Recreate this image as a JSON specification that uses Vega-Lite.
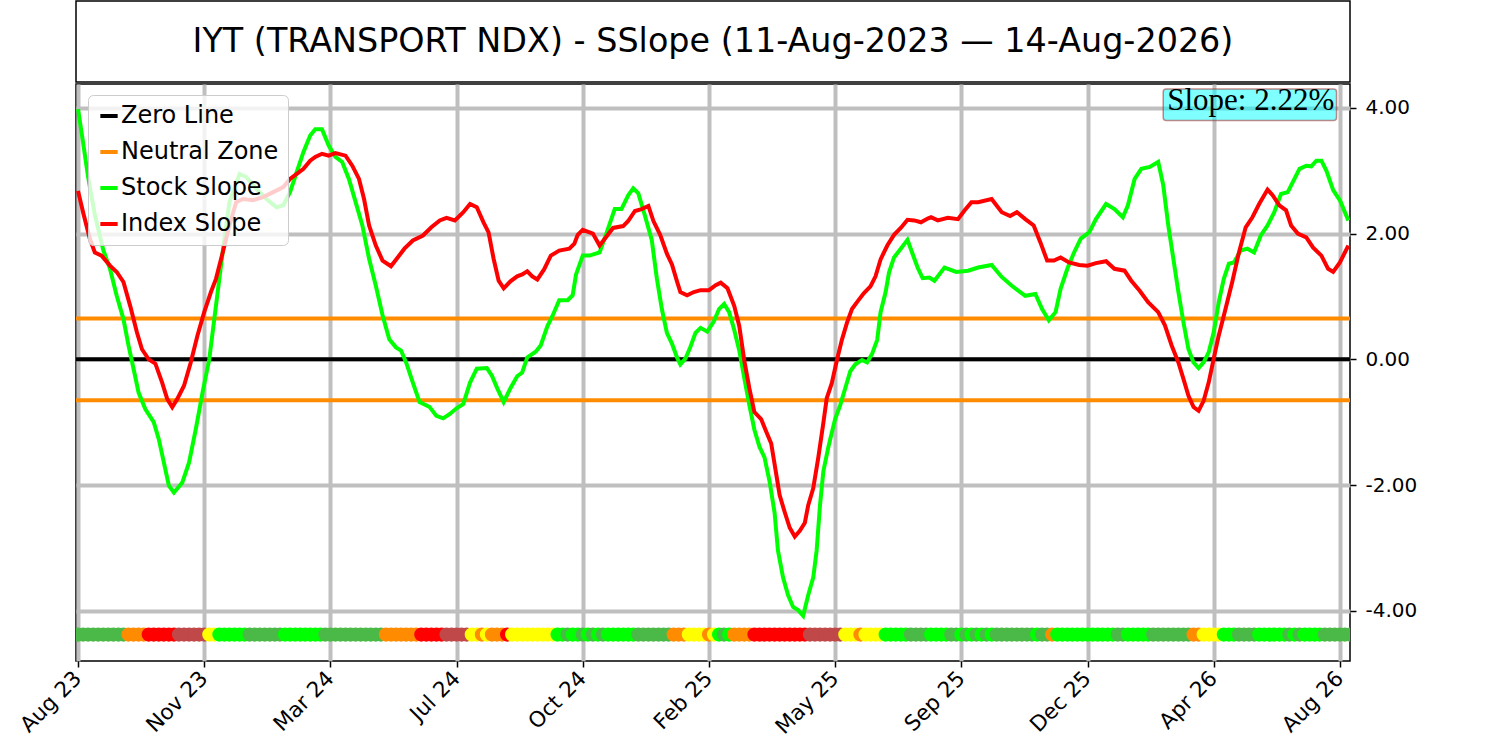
{
  "$schema": "https://vega.github.io/schema/vega-lite/v6.json",
  "description": "IYT SSlope: stock vs index slope with state strip",
  "background": "white",
  "padding": {"left": 15, "top": 0, "right": 5, "bottom": 0},
  "spacing": 0,
  "resolve": {"scale": {"color": "independent", "fill": "independent"}, "legend": {"color": "independent"}},
  "config": {
    "view": {"stroke": "black", "strokeWidth": 1.5},
    "font": "DejaVu Sans"
  },
  "datasets": {
    "stock": [
      {"i":0,"v":3.98},{"i":3,"v":3.45},{"i":6,"v":2.90},{"i":10,"v":2.30},{"i":15,"v":1.74},{"i":19,"v":1.44},{"i":23,"v":1.01},{"i":27,"v":0.64},{"i":30,"v":0.22},{"i":33,"v":-0.15},
      {"i":36,"v":-0.53},{"i":40,"v":-0.79},{"i":45,"v":-1.00},{"i":48,"v":-1.27},{"i":51,"v":-1.64},{"i":54,"v":-2.01},{"i":57,"v":-2.12},{"i":62,"v":-1.96},{"i":66,"v":-1.64},{"i":70,"v":-1.11},
      {"i":74,"v":-0.53},{"i":78,"v":0.00},{"i":81,"v":0.64},{"i":84,"v":1.28},{"i":87,"v":1.92},{"i":90,"v":2.50},{"i":96,"v":2.95},{"i":100,"v":2.90},{"i":106,"v":2.71},{"i":112,"v":2.55},
      {"i":118,"v":2.42},{"i":122,"v":2.45},{"i":126,"v":2.66},{"i":130,"v":2.98},{"i":134,"v":3.30},{"i":138,"v":3.56},{"i":141,"v":3.66},{"i":145,"v":3.66},{"i":149,"v":3.40},{"i":153,"v":3.22},
      {"i":157,"v":3.14},{"i":161,"v":2.87},{"i":165,"v":2.50},{"i":169,"v":2.13},{"i":173,"v":1.60},{"i":177,"v":1.17},{"i":181,"v":0.70},{"i":185,"v":0.32},{"i":189,"v":0.19},{"i":192,"v":0.14},
      {"i":195,"v":-0.05},{"i":199,"v":-0.37},{"i":203,"v":-0.68},{"i":209,"v":-0.76},{"i":213,"v":-0.90},{"i":217,"v":-0.94},{"i":221,"v":-0.87},{"i":225,"v":-0.78},{"i":229,"v":-0.71},{"i":233,"v":-0.37},
      {"i":237,"v":-0.15},{"i":243,"v":-0.14},{"i":246,"v":-0.26},{"i":249,"v":-0.45},{"i":253,"v":-0.68},{"i":257,"v":-0.46},{"i":261,"v":-0.27},{"i":264,"v":-0.21},{"i":267,"v":0.03},{"i":272,"v":0.12},
      {"i":275,"v":0.22},{"i":279,"v":0.53},{"i":282,"v":0.69},{"i":286,"v":0.94},{"i":291,"v":0.94},{"i":294,"v":1.02},{"i":296,"v":1.35},{"i":300,"v":1.65},{"i":304,"v":1.65},{"i":310,"v":1.70},
      {"i":314,"v":2.00},{"i":319,"v":2.39},{"i":323,"v":2.39},{"i":327,"v":2.61},{"i":330,"v":2.72},{"i":333,"v":2.64},{"i":337,"v":2.28},{"i":341,"v":1.90},{"i":344,"v":1.29},{"i":347,"v":0.80},
      {"i":350,"v":0.42},{"i":353,"v":0.25},{"i":356,"v":0.03},{"i":358,"v":-0.08},{"i":361,"v":0.01},{"i":364,"v":0.20},{"i":367,"v":0.42},{"i":370,"v":0.50},{"i":374,"v":0.44},{"i":378,"v":0.61},
      {"i":381,"v":0.80},{"i":384,"v":0.88},{"i":387,"v":0.75},{"i":390,"v":0.47},{"i":393,"v":0.14},{"i":396,"v":-0.30},{"i":399,"v":-0.73},{"i":402,"v":-1.12},{"i":405,"v":-1.39},{"i":408,"v":-1.56},
      {"i":411,"v":-1.94},{"i":414,"v":-2.44},{"i":416,"v":-3.04},{"i":419,"v":-3.47},{"i":422,"v":-3.75},{"i":425,"v":-3.94},{"i":428,"v":-3.99},{"i":431,"v":-4.08},{"i":434,"v":-3.75},{"i":437,"v":-3.47},
      {"i":439,"v":-3.04},{"i":441,"v":-2.32},{"i":443,"v":-1.78},{"i":446,"v":-1.39},{"i":450,"v":-0.95},{"i":453,"v":-0.73},{"i":456,"v":-0.46},{"i":459,"v":-0.19},{"i":462,"v":-0.08},{"i":466,"v":-0.01},
      {"i":469,"v":-0.05},{"i":472,"v":0.09},{"i":475,"v":0.31},{"i":477,"v":0.75},{"i":480,"v":1.07},{"i":482,"v":1.38},{"i":485,"v":1.62},{"i":489,"v":1.76},{"i":493,"v":1.90},{"i":496,"v":1.68},
      {"i":499,"v":1.46},{"i":502,"v":1.29},{"i":506,"v":1.30},{"i":509,"v":1.25},{"i":515,"v":1.46},{"i":522,"v":1.39},{"i":529,"v":1.41},{"i":535,"v":1.46},{"i":543,"v":1.50},{"i":549,"v":1.31},
      {"i":555,"v":1.17},{"i":563,"v":1.01},{"i":569,"v":1.04},{"i":573,"v":0.80},{"i":577,"v":0.62},{"i":581,"v":0.75},{"i":584,"v":1.12},{"i":588,"v":1.44},{"i":592,"v":1.70},{"i":596,"v":1.92},
      {"i":601,"v":2.02},{"i":605,"v":2.23},{"i":611,"v":2.47},{"i":616,"v":2.39},{"i":621,"v":2.26},{"i":624,"v":2.45},{"i":628,"v":2.87},{"i":632,"v":3.03},{"i":637,"v":3.06},{"i":642,"v":3.14},
      {"i":645,"v":2.77},{"i":648,"v":2.13},{"i":651,"v":1.60},{"i":654,"v":1.07},{"i":657,"v":0.59},{"i":660,"v":0.16},{"i":663,"v":-0.05},{"i":666,"v":-0.14},{"i":669,"v":-0.05},{"i":672,"v":0.11},
      {"i":675,"v":0.43},{"i":678,"v":0.91},{"i":681,"v":1.28},{"i":684,"v":1.52},{"i":687,"v":1.54},{"i":691,"v":1.73},{"i":695,"v":1.76},{"i":699,"v":1.70},{"i":703,"v":1.97},{"i":707,"v":2.13},
      {"i":711,"v":2.34},{"i":715,"v":2.63},{"i":719,"v":2.66},{"i":722,"v":2.82},{"i":726,"v":3.03},{"i":730,"v":3.08},{"i":733,"v":3.07},{"i":736,"v":3.16},{"i":739,"v":3.16},{"i":742,"v":3.00},
      {"i":746,"v":2.69},{"i":750,"v":2.53},{"i":755,"v":2.21}
    ],
    "index": [
      {"i":0,"v":2.68},{"i":3,"v":2.34},{"i":7,"v":1.92},{"i":10,"v":1.70},{"i":14,"v":1.65},{"i":19,"v":1.49},{"i":23,"v":1.39},{"i":27,"v":1.23},{"i":31,"v":0.85},{"i":35,"v":0.43},
      {"i":38,"v":0.16},{"i":42,"v":0.00},{"i":46,"v":-0.07},{"i":50,"v":-0.37},{"i":53,"v":-0.63},{"i":56,"v":-0.76},{"i":59,"v":-0.63},{"i":63,"v":-0.42},{"i":67,"v":-0.05},{"i":71,"v":0.38},
      {"i":75,"v":0.75},{"i":79,"v":1.07},{"i":82,"v":1.28},{"i":86,"v":1.70},{"i":90,"v":2.13},{"i":94,"v":2.50},{"i":98,"v":2.55},{"i":104,"v":2.53},{"i":110,"v":2.58},{"i":116,"v":2.66},
      {"i":122,"v":2.74},{"i":126,"v":2.87},{"i":130,"v":2.95},{"i":134,"v":3.03},{"i":138,"v":3.16},{"i":141,"v":3.22},{"i":145,"v":3.27},{"i":149,"v":3.24},{"i":153,"v":3.28},{"i":159,"v":3.24},
      {"i":163,"v":3.08},{"i":167,"v":2.87},{"i":170,"v":2.55},{"i":173,"v":2.13},{"i":177,"v":1.81},{"i":181,"v":1.57},{"i":186,"v":1.48},{"i":190,"v":1.62},{"i":194,"v":1.76},{"i":199,"v":1.89},
      {"i":205,"v":1.97},{"i":210,"v":2.10},{"i":215,"v":2.21},{"i":219,"v":2.25},{"i":224,"v":2.21},{"i":229,"v":2.34},{"i":233,"v":2.47},{"i":237,"v":2.42},{"i":241,"v":2.18},{"i":244,"v":2.02},
      {"i":247,"v":1.60},{"i":250,"v":1.25},{"i":253,"v":1.13},{"i":257,"v":1.24},{"i":261,"v":1.32},{"i":264,"v":1.35},{"i":267,"v":1.40},{"i":270,"v":1.32},{"i":273,"v":1.27},{"i":277,"v":1.43},
      {"i":281,"v":1.65},{"i":286,"v":1.73},{"i":292,"v":1.76},{"i":295,"v":1.84},{"i":297,"v":1.98},{"i":300,"v":2.06},{"i":306,"v":2.00},{"i":310,"v":1.81},{"i":314,"v":1.95},{"i":318,"v":2.09},
      {"i":324,"v":2.12},{"i":327,"v":2.20},{"i":331,"v":2.36},{"i":335,"v":2.39},{"i":339,"v":2.44},{"i":342,"v":2.20},{"i":346,"v":1.98},{"i":350,"v":1.68},{"i":353,"v":1.51},{"i":356,"v":1.24},
      {"i":358,"v":1.07},{"i":362,"v":1.02},{"i":366,"v":1.07},{"i":370,"v":1.10},{"i":375,"v":1.10},{"i":379,"v":1.18},{"i":382,"v":1.22},{"i":386,"v":1.13},{"i":390,"v":0.85},{"i":393,"v":0.53},
      {"i":396,"v":-0.02},{"i":399,"v":-0.46},{"i":402,"v":-0.84},{"i":406,"v":-0.95},{"i":409,"v":-1.15},{"i":412,"v":-1.34},{"i":415,"v":-1.83},{"i":417,"v":-2.16},{"i":420,"v":-2.43},{"i":423,"v":-2.68},
      {"i":426,"v":-2.82},{"i":429,"v":-2.73},{"i":432,"v":-2.60},{"i":434,"v":-2.32},{"i":437,"v":-2.05},{"i":440,"v":-1.56},{"i":443,"v":-1.01},{"i":445,"v":-0.62},{"i":448,"v":-0.38},{"i":451,"v":-0.02},
      {"i":454,"v":0.31},{"i":457,"v":0.58},{"i":460,"v":0.80},{"i":463,"v":0.91},{"i":467,"v":1.05},{"i":471,"v":1.16},{"i":474,"v":1.32},{"i":477,"v":1.59},{"i":481,"v":1.81},{"i":485,"v":1.98},
      {"i":489,"v":2.09},{"i":493,"v":2.22},{"i":497,"v":2.21},{"i":501,"v":2.18},{"i":505,"v":2.24},{"i":507,"v":2.26},{"i":511,"v":2.21},{"i":517,"v":2.25},{"i":523,"v":2.23},{"i":527,"v":2.37},
      {"i":531,"v":2.50},{"i":535,"v":2.50},{"i":543,"v":2.55},{"i":549,"v":2.34},{"i":554,"v":2.28},{"i":558,"v":2.34},{"i":563,"v":2.23},{"i":568,"v":2.13},{"i":572,"v":1.86},{"i":576,"v":1.57},
      {"i":580,"v":1.57},{"i":584,"v":1.62},{"i":589,"v":1.54},{"i":595,"v":1.50},{"i":600,"v":1.49},{"i":605,"v":1.53},{"i":611,"v":1.56},{"i":616,"v":1.44},{"i":622,"v":1.41},{"i":626,"v":1.25},
      {"i":631,"v":1.09},{"i":636,"v":0.91},{"i":642,"v":0.75},{"i":646,"v":0.54},{"i":650,"v":0.22},{"i":654,"v":-0.05},{"i":657,"v":-0.31},{"i":660,"v":-0.58},{"i":663,"v":-0.76},{"i":666,"v":-0.82},
      {"i":669,"v":-0.66},{"i":672,"v":-0.37},{"i":675,"v":0.01},{"i":678,"v":0.38},{"i":682,"v":0.80},{"i":686,"v":1.23},{"i":690,"v":1.70},{"i":694,"v":2.10},{"i":698,"v":2.26},{"i":702,"v":2.47},
      {"i":707,"v":2.70},{"i":710,"v":2.61},{"i":714,"v":2.45},{"i":718,"v":2.37},{"i":721,"v":2.13},{"i":725,"v":2.00},{"i":730,"v":1.94},{"i":734,"v":1.78},{"i":739,"v":1.65},{"i":743,"v":1.44},
      {"i":746,"v":1.39},{"i":750,"v":1.54},{"i":755,"v":1.81}
    ],
    "dots": [
      {"i":0,"s":"UF"},{"i":3,"s":"UF"},{"i":6,"s":"UF"},{"i":9,"s":"UF"},{"i":12,"s":"UF"},{"i":15,"s":"UF"},{"i":18,"s":"UF"},{"i":21,"s":"UF"},{"i":24,"s":"UF"},{"i":27,"s":"UF"},
      {"i":30,"s":"NF"},{"i":33,"s":"NF"},{"i":36,"s":"NF"},{"i":39,"s":"NF"},
      {"i":42,"s":"DF"},{"i":45,"s":"DF"},{"i":48,"s":"DF"},{"i":51,"s":"DF"},{"i":54,"s":"DF"},{"i":57,"s":"DF"},
      {"i":60,"s":"DR"},{"i":63,"s":"DR"},{"i":66,"s":"DR"},{"i":69,"s":"DR"},{"i":72,"s":"DR"},{"i":75,"s":"DR"},
      {"i":78,"s":"NR"},{"i":81,"s":"NR"},
      {"i":84,"s":"UR"},{"i":87,"s":"UR"},{"i":90,"s":"UR"},{"i":93,"s":"UR"},{"i":96,"s":"UR"},{"i":99,"s":"UR"},
      {"i":102,"s":"UF"},{"i":105,"s":"UF"},{"i":108,"s":"UF"},{"i":111,"s":"UF"},{"i":114,"s":"UF"},{"i":117,"s":"UF"},{"i":120,"s":"UF"},
      {"i":123,"s":"UR"},{"i":126,"s":"UR"},{"i":129,"s":"UR"},{"i":132,"s":"UR"},{"i":135,"s":"UR"},{"i":138,"s":"UR"},{"i":141,"s":"UR"},{"i":144,"s":"UR"},
      {"i":147,"s":"UF"},{"i":150,"s":"UF"},{"i":153,"s":"UF"},{"i":156,"s":"UF"},{"i":159,"s":"UF"},{"i":162,"s":"UF"},{"i":165,"s":"UF"},{"i":168,"s":"UF"},{"i":171,"s":"UF"},{"i":174,"s":"UF"},{"i":177,"s":"UF"},{"i":180,"s":"UF"},
      {"i":183,"s":"NF"},{"i":186,"s":"NF"},{"i":189,"s":"NF"},{"i":192,"s":"NF"},{"i":195,"s":"NF"},{"i":198,"s":"NF"},{"i":201,"s":"NF"},
      {"i":204,"s":"DF"},{"i":207,"s":"DF"},{"i":210,"s":"DF"},{"i":213,"s":"DF"},{"i":216,"s":"DF"},
      {"i":219,"s":"DR"},{"i":222,"s":"DR"},{"i":225,"s":"DR"},{"i":228,"s":"DR"},{"i":231,"s":"DR"},
      {"i":234,"s":"NR"},{"i":237,"s":"NR"},{"i":240,"s":"NF"},{"i":243,"s":"NR"},{"i":246,"s":"NF"},{"i":249,"s":"NF"},{"i":252,"s":"NF"},
      {"i":255,"s":"DF"},
      {"i":258,"s":"NR"},{"i":261,"s":"NR"},{"i":264,"s":"NR"},{"i":267,"s":"NR"},{"i":270,"s":"NR"},{"i":273,"s":"NR"},{"i":276,"s":"NR"},{"i":279,"s":"NR"},{"i":282,"s":"NR"},
      {"i":285,"s":"UR"},{"i":288,"s":"UR"},{"i":291,"s":"UF"},{"i":294,"s":"UR"},{"i":297,"s":"UR"},{"i":300,"s":"UF"},{"i":303,"s":"UR"},{"i":306,"s":"UF"},{"i":309,"s":"UR"},{"i":312,"s":"UF"},
      {"i":315,"s":"UR"},{"i":318,"s":"UR"},{"i":321,"s":"UR"},{"i":324,"s":"UR"},{"i":327,"s":"UR"},{"i":330,"s":"UR"},
      {"i":333,"s":"UF"},{"i":336,"s":"UF"},{"i":339,"s":"UF"},{"i":342,"s":"UF"},{"i":345,"s":"UF"},{"i":348,"s":"UF"},{"i":351,"s":"UF"},
      {"i":354,"s":"NF"},{"i":357,"s":"NF"},{"i":360,"s":"NF"},
      {"i":363,"s":"NR"},{"i":366,"s":"NR"},{"i":369,"s":"NR"},{"i":372,"s":"NR"},
      {"i":375,"s":"NF"},{"i":378,"s":"NR"},{"i":381,"s":"UR"},{"i":384,"s":"UF"},{"i":387,"s":"UR"},
      {"i":390,"s":"NF"},{"i":393,"s":"NF"},{"i":396,"s":"NF"},{"i":399,"s":"NF"},
      {"i":402,"s":"DF"},{"i":405,"s":"DF"},{"i":408,"s":"DF"},{"i":411,"s":"DF"},{"i":414,"s":"DF"},{"i":417,"s":"DF"},{"i":420,"s":"DF"},{"i":423,"s":"DF"},{"i":426,"s":"DF"},{"i":429,"s":"DF"},{"i":432,"s":"DF"},
      {"i":435,"s":"DR"},{"i":438,"s":"DR"},{"i":441,"s":"DR"},{"i":444,"s":"DR"},{"i":447,"s":"DR"},{"i":450,"s":"DR"},{"i":453,"s":"DR"},
      {"i":456,"s":"NR"},{"i":459,"s":"NR"},{"i":462,"s":"NR"},{"i":465,"s":"NF"},{"i":468,"s":"NR"},{"i":471,"s":"NR"},{"i":474,"s":"NR"},{"i":477,"s":"NR"},
      {"i":480,"s":"UR"},{"i":483,"s":"UR"},{"i":486,"s":"UR"},{"i":489,"s":"UR"},{"i":492,"s":"UR"},
      {"i":495,"s":"UF"},{"i":498,"s":"UF"},{"i":501,"s":"UF"},{"i":504,"s":"UF"},
      {"i":507,"s":"UR"},{"i":510,"s":"UR"},{"i":513,"s":"UR"},{"i":516,"s":"UR"},
      {"i":519,"s":"UF"},{"i":522,"s":"UF"},
      {"i":525,"s":"UR"},{"i":528,"s":"UF"},{"i":531,"s":"UR"},{"i":534,"s":"UF"},{"i":537,"s":"UR"},{"i":540,"s":"UF"},{"i":543,"s":"UR"},{"i":546,"s":"UF"},
      {"i":549,"s":"UF"},{"i":552,"s":"UF"},{"i":555,"s":"UF"},{"i":558,"s":"UF"},{"i":561,"s":"UF"},{"i":564,"s":"UF"},{"i":567,"s":"UF"},
      {"i":570,"s":"UR"},{"i":573,"s":"UF"},{"i":576,"s":"UF"},{"i":579,"s":"NF"},
      {"i":582,"s":"UR"},{"i":585,"s":"UR"},{"i":588,"s":"UR"},{"i":591,"s":"UR"},{"i":594,"s":"UR"},{"i":597,"s":"UR"},{"i":600,"s":"UR"},{"i":603,"s":"UR"},{"i":606,"s":"UR"},{"i":609,"s":"UR"},{"i":612,"s":"UR"},{"i":615,"s":"UR"},
      {"i":618,"s":"UF"},{"i":621,"s":"UF"},
      {"i":624,"s":"UR"},{"i":627,"s":"UR"},{"i":630,"s":"UR"},{"i":633,"s":"UR"},{"i":636,"s":"UR"},
      {"i":639,"s":"UF"},{"i":642,"s":"UF"},{"i":645,"s":"UF"},{"i":648,"s":"UF"},{"i":651,"s":"UF"},{"i":654,"s":"UF"},{"i":657,"s":"UF"},{"i":660,"s":"UF"},
      {"i":663,"s":"NF"},{"i":666,"s":"NF"},
      {"i":669,"s":"NR"},{"i":672,"s":"NR"},{"i":675,"s":"NR"},{"i":678,"s":"NR"},
      {"i":681,"s":"UR"},{"i":684,"s":"UR"},{"i":687,"s":"UR"},
      {"i":690,"s":"UF"},{"i":693,"s":"UF"},{"i":696,"s":"UF"},{"i":699,"s":"UF"},
      {"i":702,"s":"UR"},{"i":705,"s":"UR"},{"i":708,"s":"UR"},{"i":711,"s":"UR"},{"i":714,"s":"UR"},{"i":717,"s":"UR"},
      {"i":720,"s":"UF"},{"i":723,"s":"UR"},{"i":726,"s":"UF"},{"i":729,"s":"UR"},{"i":732,"s":"UR"},{"i":735,"s":"UR"},{"i":738,"s":"UR"},
      {"i":741,"s":"UF"},{"i":744,"s":"UF"},{"i":747,"s":"UF"},{"i":750,"s":"UF"},{"i":753,"s":"UF"},{"i":756,"s":"UF"}
    ],
    "neutral": [{"level": 0.65}, {"level": -0.65}],
    "note": [{"i0": 645, "i1": 748, "top": 4.30, "bottom": 3.80, "ix": 697, "iy": 3.965, "label": "Slope: 2.22%"}]
  },
  "vconcat": [
    {
      "width": 1274,
      "height": 81,
      "data": {"values": [{"label": "IYT (TRANSPORT NDX) - SSlope (11-Aug-2023 — 14-Aug-2026)"}]},
      "mark": {"type": "text", "font": "DejaVu Sans", "fontSize": 33.4, "color": "black", "align": "center", "baseline": "middle"},
      "encoding": {
        "text": {"field": "label"},
        "x": {"datum": 0.5, "type": "quantitative", "scale": {"domain": [0, 1]}, "axis": null},
        "y": {"datum": 0.5, "type": "quantitative", "scale": {"domain": [0, 1]}, "axis": null}
      }
    },
    {
      "width": 1274,
      "height": 577,
      "layer": [
        {
          "data": {"name": "neutral"},
          "mark": {"type": "rule", "strokeWidth": 4},
          "encoding": {
            "y": {"field": "level", "type": "quantitative", "scale": {"domain": [-4.8, 4.38], "nice": false, "zero": false}, "axis": {"title": null}},
            "color": {"datum": "Neutral Zone", "type": "nominal",
              "scale": {"domain": ["Zero Line", "Neutral Zone", "Stock Slope", "Index Slope"], "range": ["#000000", "#ff8c00", "#00ff00", "#ff0000"]},
              "legend": {"title": null, "orient": "none", "legendX": 12, "legendY": 11, "fillColor": "rgba(255,255,255,0.8)", "strokeColor": "#cccccc", "cornerRadius": 5, "padding": 9,
                "symbolType": "stroke", "symbolStrokeWidth": 4, "symbolSize": 300, "labelFont": "DejaVu Sans", "labelFontSize": 24, "labelColor": "black", "rowPadding": 12, "labelOffset": 0, "labelLimit": 400}}
          }
        },
        {
          "data": {"values": [{"level": 0}]},
          "mark": {"type": "rule", "strokeWidth": 4},
          "encoding": {
            "y": {"field": "level", "type": "quantitative", "scale": {"domain": [-4.8, 4.38], "nice": false, "zero": false}, "axis": {"title": null}},
            "color": {"datum": "Zero Line", "type": "nominal",
              "scale": {"domain": ["Zero Line", "Neutral Zone", "Stock Slope", "Index Slope"], "range": ["#000000", "#ff8c00", "#00ff00", "#ff0000"]}}
          }
        },
        {
          "data": {"name": "stock"},
          "mark": {"type": "line", "strokeWidth": 4, "clip": true},
          "encoding": {
            "x": {"field": "i", "type": "quantitative", "scale": {"domain": [-1.2, 756], "nice": false, "zero": false},
              "axis": {"title": null, "values": [0, 75, 150, 225, 300, 375, 450, 525, 600, 675, 750],
                "labelExpr": "['Aug 23','Nov 23','Mar 24','Jul 24','Oct 24','Feb 25','May 25','Sep 25','Dec 25','Apr 26','Aug 26'][round(datum.value / 75)]",
                "labelAngle": -45, "labelAlign": "right", "labelBaseline": "middle", "labelPadding": 8,
                "labelFont": "DejaVu Sans", "labelFontSize": 21.5, "labelColor": "black",
                "domain": false, "tickColor": "black", "tickSize": 6, "tickWidth": 1.5,
                "grid": true, "gridColor": "#bfbfbf", "gridWidth": 4}},
            "y": {"field": "v", "type": "quantitative", "scale": {"domain": [-4.8, 4.38], "nice": false, "zero": false},
              "axis": {"title": null, "orient": "right", "values": [-4, -2, 0, 2, 4],
                "labelExpr": "replace(format(datum.value, '.2f'), '\u2212', '-')",
                "labelFont": "DejaVu Sans", "labelFontSize": 20, "labelColor": "black", "labelPadding": 9,
                "domain": false, "tickColor": "black", "tickSize": 6, "tickWidth": 1.5,
                "grid": true, "gridColor": "#bfbfbf", "gridWidth": 4}},
            "color": {"datum": "Stock Slope", "type": "nominal",
              "scale": {"domain": ["Zero Line", "Neutral Zone", "Stock Slope", "Index Slope"], "range": ["#000000", "#ff8c00", "#00ff00", "#ff0000"]}}
          }
        },
        {
          "data": {"name": "index"},
          "mark": {"type": "line", "strokeWidth": 4, "clip": true},
          "encoding": {
            "x": {"field": "i", "type": "quantitative", "scale": {"domain": [-1.2, 756], "nice": false, "zero": false}, "axis": {"title": null}},
            "y": {"field": "v", "type": "quantitative", "scale": {"domain": [-4.8, 4.38], "nice": false, "zero": false}, "axis": {"title": null}},
            "color": {"datum": "Index Slope", "type": "nominal",
              "scale": {"domain": ["Zero Line", "Neutral Zone", "Stock Slope", "Index Slope"], "range": ["#000000", "#ff8c00", "#00ff00", "#ff0000"]}}
          }
        },
        {
          "data": {"name": "dots"},
          "mark": {"type": "point", "filled": true, "size": 200, "opacity": 1, "shape": "circle", "clip": true},
          "encoding": {
            "x": {"field": "i", "type": "quantitative", "scale": {"domain": [-1.2, 756], "nice": false, "zero": false}, "axis": {"title": null}},
            "y": {"datum": -4.38, "type": "quantitative", "scale": {"domain": [-4.8, 4.38], "nice": false, "zero": false}, "axis": {"title": null}},
            "fill": {"field": "s", "type": "nominal", "legend": null,
              "scale": {"domain": ["UR", "UF", "NR", "NF", "DR", "DF"], "range": ["#00ff00", "#4bb947", "#ffff00", "#ff8c00", "#c04848", "#ff0000"]}}
          }
        },
        {
          "data": {"name": "note"},
          "mark": {"type": "rect", "fill": "#00ffff", "fillOpacity": 0.5, "stroke": "#a52a2a", "strokeOpacity": 0.55, "strokeWidth": 1.5, "cornerRadius": 3},
          "encoding": {
            "x": {"field": "i0", "type": "quantitative", "scale": {"domain": [-1.2, 756], "nice": false, "zero": false}, "axis": {"title": null}},
            "x2": {"field": "i1"},
            "y": {"field": "top", "type": "quantitative", "scale": {"domain": [-4.8, 4.38], "nice": false, "zero": false}, "axis": {"title": null}},
            "y2": {"field": "bottom"}
          }
        },
        {
          "data": {"name": "note"},
          "mark": {"type": "text", "font": "Liberation Serif", "fontSize": 31, "color": "black", "align": "center", "baseline": "alphabetic"},
          "encoding": {
            "x": {"field": "ix", "type": "quantitative", "scale": {"domain": [-1.2, 756], "nice": false, "zero": false}, "axis": {"title": null}},
            "y": {"field": "iy", "type": "quantitative", "scale": {"domain": [-4.8, 4.38], "nice": false, "zero": false}, "axis": {"title": null}},
            "text": {"field": "label"}
          }
        }
      ]
    }
  ]
}
